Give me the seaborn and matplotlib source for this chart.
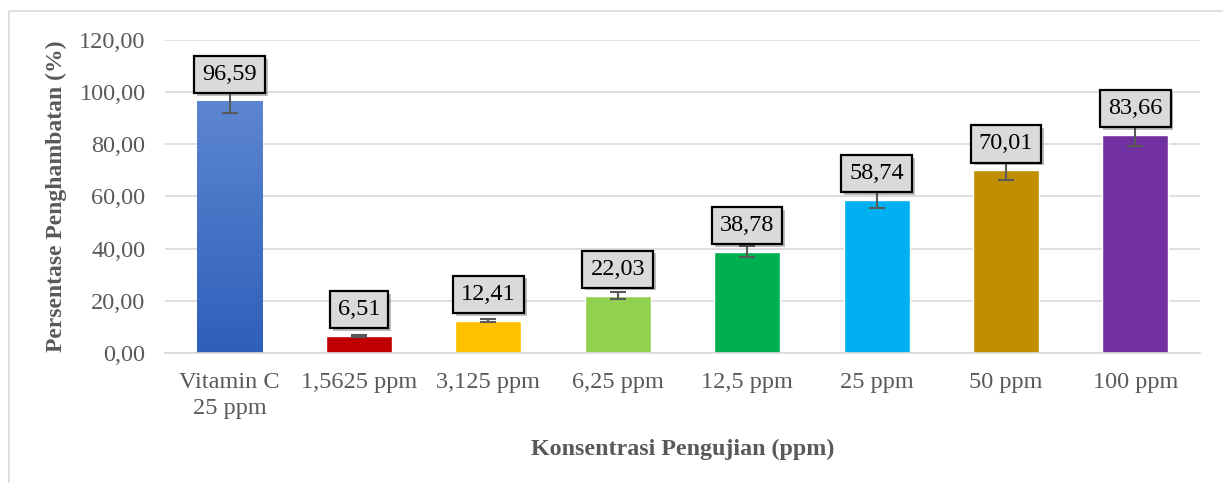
import seaborn as sns
import matplotlib.pyplot as plt
import matplotlib.patheffects as pe
from matplotlib.patches import Rectangle
import numpy as np
import pandas as pd

kategori = ["Vitamin C\n25 ppm", "1,5625 ppm", "3,125 ppm", "6,25 ppm",
            "12,5 ppm", "25 ppm", "50 ppm", "100 ppm"]
persen = [96.59, 6.51, 12.41, 22.03, 38.78, 58.74, 70.01, 83.66]
galat = [4.7, 0.5, 0.6, 1.2, 2.1, 3.0, 3.7, 4.3]
warna = ["#4472c4", "#c00000", "#ffc000", "#92d050",
         "#00b050", "#00b0f0", "#bf8f00", "#7030a0"]

df = pd.DataFrame({"Konsentrasi": kategori, "Persen": persen})

sns.set_style("white")
plt.rcParams['font.family'] = ['Liberation Serif', 'DejaVu Serif']

fig = plt.figure(figsize=(12.23, 4.83), dpi=100)
ax = fig.add_axes([0.1349, 0.2692, 0.9812 - 0.1349, 0.9172 - 0.2692])

# bingkai luar
fig.patches.append(Rectangle((9 / 1223, -0.1), 1.2, (483 - 11) / 483 + 0.1,
                             transform=fig.transFigure, fill=False,
                             ec="#d9d9d9", lw=1.2))

sns.barplot(data=df, x="Konsentrasi", y="Persen", hue="Konsentrasi",
            palette=warna, legend=False, errorbar=None, width=0.51,
            saturation=1, ax=ax, zorder=2)

# gradien untuk batang vitamin C
p0 = ax.patches[0]
x0, w0, h0 = p0.get_x(), p0.get_width(), p0.get_height()
grad = np.linspace(0, 1, 256).reshape(-1, 1)
cmap = sns.blend_palette(["#2e5fba", "#5d86d0"], as_cmap=True)
ax.imshow(grad, extent=[x0, x0 + w0, 0, h0], origin="lower", cmap=cmap,
          aspect="auto", zorder=2.5)
p0.set_alpha(0)

xs = [p.get_x() + p.get_width() / 2 for p in ax.patches]
ax.errorbar(xs, persen, yerr=galat, fmt="none", ecolor="#595959",
            elinewidth=1.5, capsize=6, capthick=1.5, zorder=3)

for x, v in zip(xs, persen):
    t = ax.annotate(f"{v:.2f}".replace(".", ","), (x, v), xytext=(0, 19),
                    textcoords="offset points", ha="center", va="center",
                    fontsize=17.5, color="black", zorder=5,
                    bbox=dict(boxstyle="square,pad=0.33", fc="#dadada",
                              ec="black", lw=1.6))
    t.get_bbox_patch().set_path_effects(
        [pe.SimplePatchShadow(offset=(2, -2), alpha=0.35), pe.Normal()])

ax.set_ylim(0, 120)
ax.set_xlim(-0.5, len(kategori) - 0.5)
ax.set_yticks(np.arange(0, 121, 20))
ax.set_yticklabels([f"{v:.2f}".replace(".", ",") for v in np.arange(0, 121, 20)])
ax.yaxis.grid(True, color="#d9d9d9", lw=1.2)
ax.set_axisbelow(True)
for s in ["top", "right", "left"]:
    ax.spines[s].set_visible(False)
ax.spines["bottom"].set_color("#d9d9d9")
ax.spines["bottom"].set_linewidth(1.2)
ax.tick_params(axis="both", length=0, labelsize=17.5, colors="#595959")
ax.tick_params(axis="y", pad=14)
ax.tick_params(axis="x", pad=14)
for lbl in ax.get_xticklabels():
    lbl.set_linespacing(1.3)

ax.set_xlabel("Konsentrasi Pengujian (ppm)", fontsize=17.3, fontweight="bold",
              color="#595959", labelpad=14)
ax.set_ylabel("Persentase Penghambatan (%)", fontsize=17, fontweight="bold",
              color="#595959", labelpad=9)

fig.savefig("out.png", dpi=100)
